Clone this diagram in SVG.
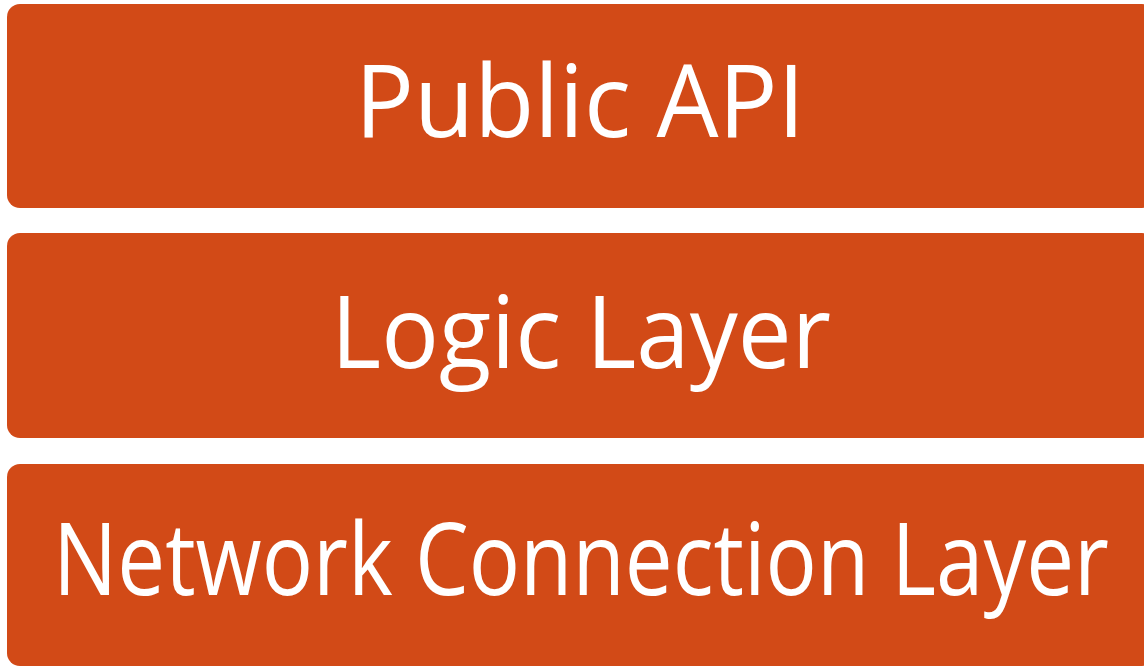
<svg xmlns="http://www.w3.org/2000/svg" width="1144" height="667" viewBox="0 0 1144 667">
<style>
.box{fill:#D24A17;}
.lbl{fill:#FFFFFF;font-family:"Open Sans","Noto Sans","Liberation Sans",sans-serif;font-size:100px;text-anchor:middle;}
</style>
<rect x="0" y="0" width="1144" height="667" fill="#FFFFFF"/>
<g id="public-api">
<rect class="box" x="7" y="4" width="1148" height="204" rx="13" ry="13"/>
<text class="lbl" x="580" y="137" textLength="450" lengthAdjust="spacingAndGlyphs">Public API</text>
</g>
<g id="logic-layer">
<rect class="box" x="7" y="233" width="1148" height="205" rx="13" ry="13"/>
<text class="lbl" x="581" y="368" textLength="500" lengthAdjust="spacingAndGlyphs">Logic Layer</text>
</g>
<g id="network-connection-layer">
<rect class="box" x="7" y="464" width="1148" height="202" rx="13" ry="13"/>
<text class="lbl" x="581" y="595" textLength="1056" lengthAdjust="spacingAndGlyphs">Network Connection Layer</text>
</g>
<g id="connectors"/>
</svg>
